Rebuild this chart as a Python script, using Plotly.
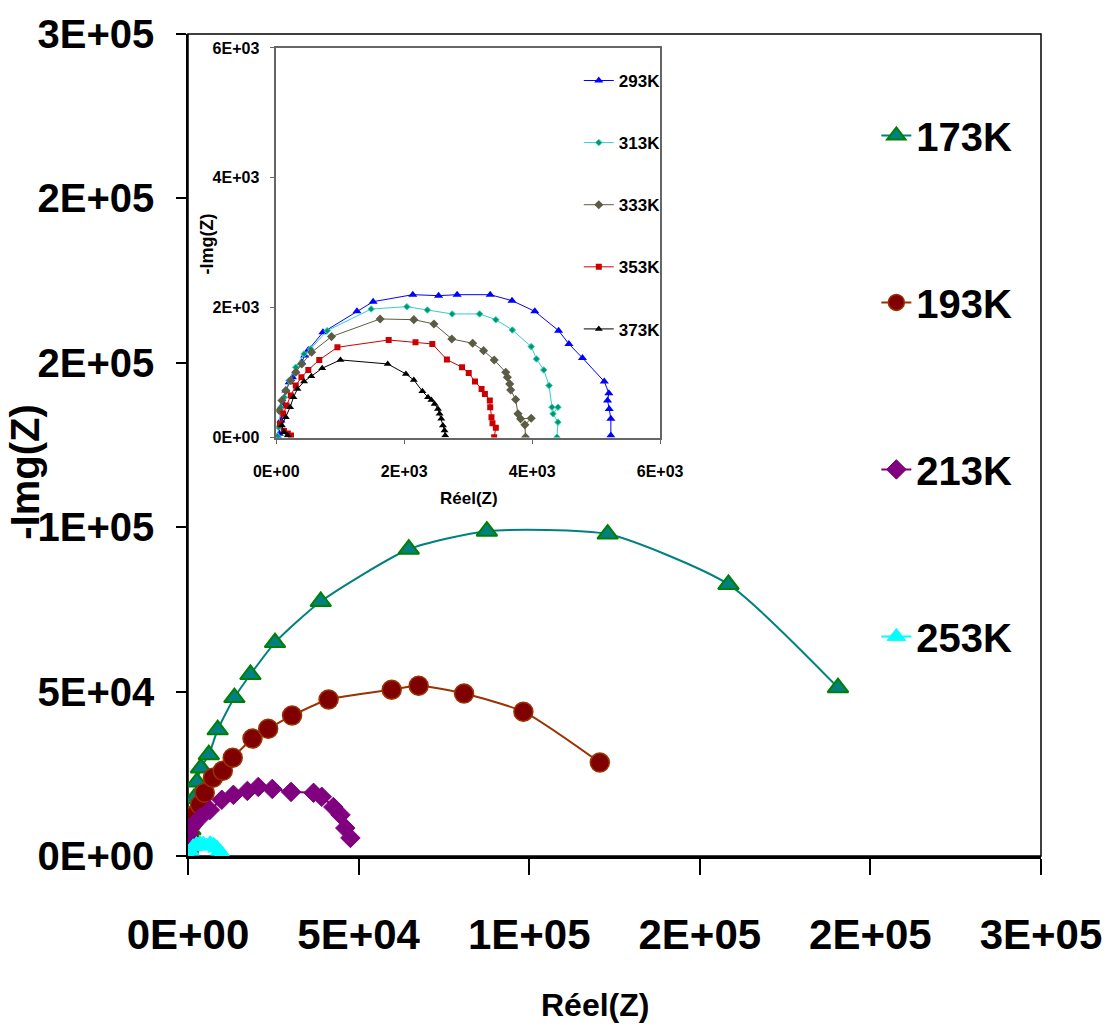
import plotly.graph_objects as go

# ---------------- data (main chart) ----------------
main_ticks = [0, 50000, 100000, 150000, 200000, 250000]
main_ticktext = ["0E+00", "5E+04", "1E+05", "2E+05", "2E+05", "3E+05"]

x173 = [100, 300, 700, 1200, 1800, 2600, 3800, 6100, 8700, 13600, 18300, 25500, 38900, 64700, 87600, 123000, 158400, 190500]
y173 = [300, 3500, 8000, 13000, 17500, 22500, 26800, 30800, 38400, 48200, 55200, 64900, 77400, 93300, 98800, 97900, 82600, 51200]

x193 = [200, 500, 1200, 2000, 3500, 4900, 7300, 10200, 13100, 18900, 23500, 30500, 41200, 59700, 67600, 80900, 98300, 120700]
y193 = [1500, 5000, 10100, 12500, 15600, 19200, 23800, 25900, 29900, 35700, 38700, 42700, 47600, 50600, 51800, 49400, 43900, 28400]

x213 = [0, 100, 300, 1500, 3500, 6400, 9900, 13300, 17400, 20600, 24700, 30200, 36800, 39200, 42600, 44700, 46100, 47600]
y213 = [0, 3000, 7000, 9500, 11600, 14000, 17100, 18600, 19800, 21000, 20400, 19500, 19200, 18000, 14900, 12500, 8500, 5500]

x253 = [0, 600, 1500, 2500, 3500, 4500, 5500, 6500, 7500, 8500, 9300, 9900]
y253 = [0, 1500, 2800, 3500, 3700, 3600, 3000, 3700, 3300, 2400, 1500, 600]

# ---------------- data (inset) ----------------
inset_ticks = [0, 2000, 4000, 6000]
inset_ticktext = ["0E+00", "2E+03", "4E+03", "6E+03"]

x293 = [30, 47, 72, 109, 150, 202, 253, 305, 398, 444, 501, 729, 1261, 1514, 2134, 2537, 2827, 3344, 3685, 4041, 4413, 4574, 4786, 5127, 5199, 5178, 5204, 5230, 5230]
y293 = [10, 56, 262, 518, 723, 851, 928, 1020, 1159, 1262, 1349, 1620, 1944, 2092, 2200, 2185, 2200, 2200, 2108, 1944, 1646, 1441, 1226, 862, 682, 569, 441, 287, 31]

x313 = [20, 36, 72, 124, 202, 305, 434, 537, 796, 1483, 2041, 2362, 2749, 3178, 3432, 3690, 3985, 4067, 4181, 4264, 4310, 4403, 4326, 4403, 4388]
y313 = [20, 159, 467, 620, 877, 1082, 1287, 1364, 1646, 1979, 2015, 1964, 1903, 1903, 1815, 1656, 1400, 1210, 1041, 800, 467, 467, 364, 236, 5]

x333 = [47, 88, 150, 227, 305, 398, 553, 863, 1623, 2150, 2465, 2744, 3070, 3240, 3406, 3587, 3612, 3649, 3664, 3742, 3778, 3819, 3985, 3886, 3896]
y333 = [415, 569, 723, 877, 1005, 1133, 1313, 1554, 1826, 1815, 1749, 1518, 1451, 1338, 1195, 1005, 928, 826, 733, 585, 364, 287, 297, 195, 5]

x353 = [230, 180, 120, 57, 109, 160, 227, 305, 393, 501, 672, 956, 1757, 2176, 2439, 2667, 2904, 3008, 3106, 3209, 3261, 3338, 3344, 3364, 3380, 3432, 3406]
y353 = [30, 60, 100, 210, 364, 492, 646, 800, 928, 1041, 1195, 1390, 1502, 1467, 1441, 1200, 1082, 995, 862, 749, 672, 569, 467, 313, 220, 149, 5]

x373 = [180, 120, 88, 150, 217, 269, 331, 434, 548, 718, 1003, 1742, 2026, 2150, 2284, 2372, 2424, 2475, 2527, 2553, 2579, 2605, 2630, 2641]
y373 = [30, 80, 185, 313, 467, 620, 749, 862, 944, 1067, 1195, 1133, 979, 887, 713, 620, 579, 518, 441, 364, 287, 185, 108, 31]

# ---------------- styles ----------------
FONT = "Liberation Sans, Arial, sans-serif"

fig = go.Figure()

main_series = [
    ("173K", x173, y173, dict(symbol="triangle-up", size=18, color="#008080", line=dict(color="#008000", width=2)), "#008080"),
    ("193K", x193, y193, dict(symbol="circle", size=19, color="#800000", line=dict(color="#993300", width=1.5)), "#993300"),
    ("213K", x213, y213, dict(symbol="diamond", size=15, color="#800080", line=dict(color="#800080", width=1)), "#800080"),
    ("253K", x253, y253, dict(symbol="triangle-up", size=16, color="#00FFFF", line=dict(color="#00FFFF", width=1)), "#00FFFF"),
]
for name, xs, ys, mk, lc in main_series:
    fig.add_trace(go.Scatter(
        x=xs, y=ys, name=name, mode="lines+markers",
        line=dict(color=lc, width=2, shape="spline", smoothing=0.6),
        marker=mk, legend="legend", legendgroup=name,
        xaxis="x", yaxis="y",
    ))

inset_series = [
    ("293K", x293, y293, dict(symbol="triangle-up", size=8, color="#0000FF"), "#0000FF"),
    ("313K", x313, y313, dict(symbol="diamond", size=5, color="#009966", line=dict(color="#33CCCC", width=1)), "#33CCCC"),
    ("333K", x333, y333, dict(symbol="diamond", size=7, color="#5C5C45"), "#5C5C45"),
    ("353K", x353, y353, dict(symbol="square", size=6, color="#CC0000"), "#CC0000"),
    ("373K", x373, y373, dict(symbol="triangle-up", size=7, color="#000000"), "#000000"),
]
for name, xs, ys, mk, lc in inset_series:
    fig.add_trace(go.Scatter(
        x=xs, y=ys, name=name, mode="lines+markers",
        line=dict(color=lc, width=1),
        marker=mk, legend="legend2", legendgroup=name,
        xaxis="x2", yaxis="y2",
    ))

W, H = 1114, 1032
L, R, T, B = 188, 1048, 33, 856

def px_x(p):
    return (p - L) / (R - L)

def px_y(p):
    return (B - p) / (B - T)

fig.update_layout(
    width=W, height=H,
    margin=dict(l=L, r=W - R, t=T, b=H - B, pad=0),
    paper_bgcolor="white", plot_bgcolor="white",
    showlegend=True,
    xaxis=dict(
        range=[0, 250000], tickmode="array", tickvals=main_ticks, ticktext=main_ticktext,
        showgrid=False, zeroline=False, showline=True, linecolor="black", linewidth=3,
        ticks="outside", ticklen=16, tickwidth=1.5, tickcolor="black",
        tickfont=dict(family=FONT, size=42, color="black", weight="bold"),
        ticklabelstandoff=24,
    ),
    yaxis=dict(
        range=[0, 250000], tickmode="array", tickvals=main_ticks, ticktext=main_ticktext,
        showgrid=False, zeroline=False, showline=True, linecolor="black", linewidth=1.5,
        ticks="outside", ticklen=10, tickwidth=1.5, tickcolor="black",
        tickfont=dict(family=FONT, size=40, color="black", weight="bold"),
        ticklabelstandoff=14,
    ),
    xaxis2=dict(
        domain=[px_x(277), px_x(664)], anchor="y2",
        range=[0, 6000], tickmode="array", tickvals=inset_ticks, ticktext=inset_ticktext,
        showgrid=False, zeroline=False, showline=True, linecolor="#666666", linewidth=1.5, mirror=True,
        ticks="outside", ticklen=5, tickwidth=1, tickcolor="#666666",
        tickfont=dict(family=FONT, size=16, color="black", weight="bold"),
        ticklabelstandoff=14,
    ),
    yaxis2=dict(
        domain=[px_y(437), px_y(47)], anchor="x2",
        range=[0, 6000], tickmode="array", tickvals=inset_ticks, ticktext=inset_ticktext,
        showgrid=False, zeroline=False, showline=True, linecolor="#666666", linewidth=1.5, mirror=True,
        ticks="outside", ticklen=5, tickwidth=1, tickcolor="#666666",
        tickfont=dict(family=FONT, size=16, color="black", weight="bold"),
        ticklabelstandoff=7,
    ),
    legend=dict(
        x=px_x(882), y=px_y(102), xanchor="left", yanchor="top",
        bgcolor="rgba(0,0,0,0)", borderwidth=0,
        font=dict(family=FONT, size=40, color="black", weight="bold"),
        tracegroupgap=112, itemsizing="trace",
    ),
    legend2=dict(
        x=px_x(582), y=px_y(62), xanchor="left", yanchor="top",
        bgcolor="rgba(0,0,0,0)", borderwidth=0,
        font=dict(family=FONT, size=17, color="black", weight="bold"),
        tracegroupgap=37, itemsizing="trace",
    ),
    shapes=[
        dict(type="rect", xref="paper", yref="paper", x0=0, x1=1, y0=0, y1=1,
             line=dict(color="black", width=1.5), fillcolor="rgba(0,0,0,0)", layer="below"),
    ],
    annotations=[
        dict(text="Réel(Z)", xref="paper", yref="paper", x=px_x(598), y=px_y(1005),
             showarrow=False, xanchor="center", yanchor="middle",
             font=dict(family=FONT, size=32, color="black", weight="bold")),
        dict(text="-Img(Z)", xref="paper", yref="paper", x=px_x(24), y=px_y(471),
             showarrow=False, xanchor="center", yanchor="middle", textangle=-90,
             font=dict(family=FONT, size=40, color="black", weight="bold")),
        dict(text="Réel(Z)", xref="paper", yref="paper", x=px_x(471), y=px_y(498),
             showarrow=False, xanchor="center", yanchor="middle",
             font=dict(family=FONT, size=17, color="black", weight="bold")),
        dict(text="-Img(Z)", xref="paper", yref="paper", x=px_x(207), y=px_y(243),
             showarrow=False, xanchor="center", yanchor="middle", textangle=-90,
             font=dict(family=FONT, size=18, color="black", weight="bold")),
    ],
)

fig.write_html("out.html")
